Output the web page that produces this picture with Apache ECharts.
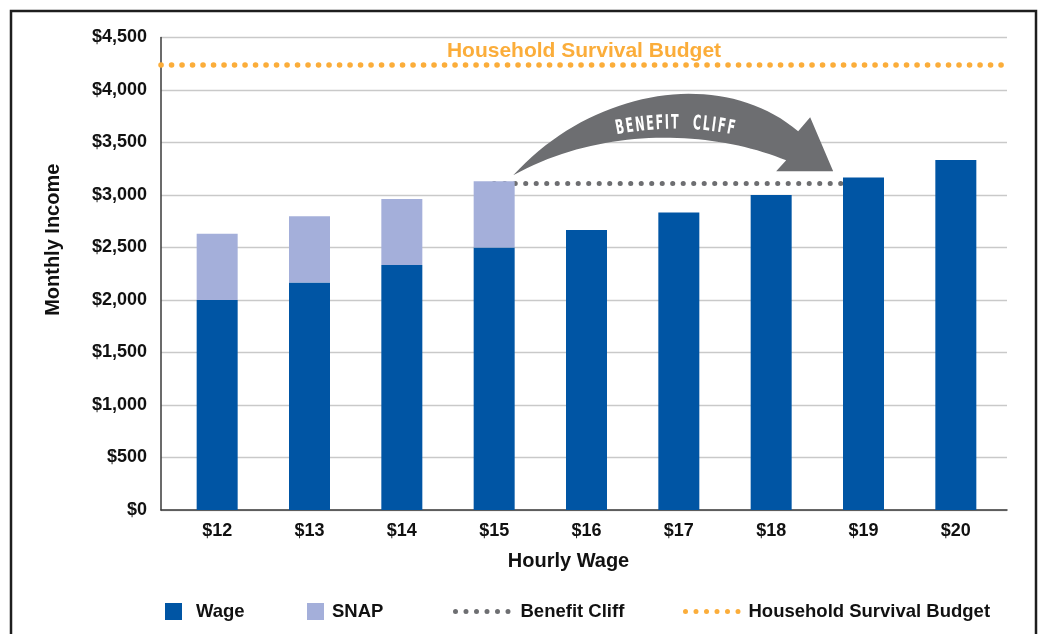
<!DOCTYPE html>
<html>
<head>
<meta charset="utf-8">
<script src="https://cdn.jsdelivr.net/npm/echarts@6/dist/echarts.min.js"></script>
<style>
  html, body { margin: 0; padding: 0; background: #fff; }
  #chart { width: 1042px; height: 634px; }
</style>
</head>
<body>
<div id="chart"></div>
<script>
  // 数据
  const hourly = ['$12', '$13', '$14', '$15', '$16', '$17', '$18', '$19', '$20']
  const wage = [2000, 2167, 2333, 2500, 2667, 2833, 3000, 3167, 3333]
  const snap = [630, 630, 630, 630, null, null, null, null, null]
  const cliffLevel = 3110
  const cliffFrom = '$15'
  const cliffTo = '$19'
  const budget = 4240
  const yMin = 0
  const yMax = 4500
  const yStep = 500

  const font = '"Liberation Sans", Arial, sans-serif'
  const blue = '#0055a4'
  const lightBlue = '#a4afda'
  const grey = '#6d6e71'
  const orange = '#fbad3a'

  // 悬崖虚线只画在 $15 ~ $19 之间
  const iFrom = hourly.indexOf(cliffFrom)
  const iTo = hourly.indexOf(cliffTo)
  const cliffData = hourly.map((c, i) => (i >= iFrom && i <= iTo ? cliffLevel : null))

  const dotted = (color, w) => ({ color: color, width: w, type: [0.1, 10.4], cap: 'round' })

  // 图例里的六个圆点
  let dotsIcon = 'path://'
  for (let k = 0; k < 6; k++) {
    let x0 = k * 10.5
    dotsIcon += 'M' + x0 + ' 2.5a2.5 2.5 0 1 0 5 0a2.5 2.5 0 1 0 -5 0Z'
  }

  const legendText = pad => ({ color: '#111', fontSize: 18.5, fontWeight: 'bold', fontFamily: font, padding: [0, 0, 0, pad] })

  let chart = echarts.init(document.getElementById('chart'))
  let option = {
    animation: false,
    grid: [
      { left: 161, right: 35, top: 37.5, bottom: 124 }, // 坐标轴和网格线
      { left: 171, right: 40, top: 37.5, bottom: 124 }  // 柱子
    ],
    xAxis: [{
      gridIndex: 0,
      type: 'category',
      data: hourly,
      axisLine: { show: true, lineStyle: { color: '#3a3a3a', width: 1.5 } },
      axisTick: { show: false },
      axisLabel: { show: false }
    }, {
      gridIndex: 1,
      type: 'category',
      data: hourly,
      axisLine: { show: false },
      axisTick: { show: false },
      axisLabel: { color: '#111', fontSize: 18, fontWeight: 'bold', fontFamily: font, margin: 12 },
      name: 'Hourly Wage',
      nameLocation: 'middle',
      nameGap: 41,
      nameTextStyle: { color: '#111', fontSize: 20, fontWeight: 'bold', fontFamily: font, padding: [0, 36, 0, 0] }
    }],
    yAxis: [{
      gridIndex: 0,
      type: 'value',
      min: yMin,
      max: yMax,
      interval: yStep,
      axisLine: { show: true, lineStyle: { color: '#3a3a3a', width: 1.5 } },
      axisTick: { show: false },
      splitLine: { show: true, lineStyle: { color: '#c9c9c9', width: 1.3 } },
      axisLabel: {
        color: '#111', fontSize: 18, fontWeight: 'bold', fontFamily: font, margin: 14,
        formatter: v => '$' + v.toLocaleString('en-US')
      },
      name: 'Monthly Income',
      nameLocation: 'middle',
      nameGap: 98,
      nameTextStyle: { color: '#111', fontSize: 20, fontWeight: 'bold', fontFamily: font, padding: [0, 0, 0, 68] }
    }, {
      gridIndex: 1,
      type: 'value',
      min: yMin,
      max: yMax,
      interval: yStep,
      show: false
    }],
    legend: [
      { data: ['Wage'], left: 165, top: 602, padding: 0, icon: 'rect', itemWidth: 17, itemHeight: 17,
        textStyle: legendText(9) },
      { data: ['SNAP'], left: 307, top: 602, padding: 0, icon: 'rect', itemWidth: 17, itemHeight: 17,
        textStyle: legendText(3) },
      { data: ['Benefit Cliff'], left: 453, top: 602, padding: 0, icon: dotsIcon, itemWidth: 57.5, itemHeight: 5,
        textStyle: legendText(5) },
      { data: ['Household Survival Budget'], left: 683, top: 602, padding: 0, icon: dotsIcon, itemWidth: 57.5, itemHeight: 5,
        textStyle: legendText(3) }
    ],
    series: [{
      name: 'Wage',
      type: 'bar',
      xAxisIndex: 1,
      yAxisIndex: 1,
      stack: 'income',
      barWidth: 41,
      z: 3,
      itemStyle: { color: blue },
      data: wage
    }, {
      name: 'SNAP',
      type: 'bar',
      xAxisIndex: 1,
      yAxisIndex: 1,
      stack: 'income',
      barWidth: 41,
      z: 3,
      itemStyle: { color: lightBlue },
      data: snap
    }, {
      name: 'Benefit Cliff',
      type: 'line',
      xAxisIndex: 1,
      yAxisIndex: 1,
      symbol: 'none',
      z: 1,
      itemStyle: { color: grey },
      lineStyle: dotted(grey, 5),
      data: cliffData
    }, {
      name: 'Household Survival Budget',
      type: 'line',
      xAxisIndex: 0,
      yAxisIndex: 0,
      symbol: 'none',
      itemStyle: { color: orange },
      lineStyle: dotted(orange, 5.5),
      data: [],
      markLine: {
        silent: true,
        symbol: ['none', 'none'],
        lineStyle: dotted(orange, 5.5),
        label: {
          show: true,
          position: 'insideMiddleTop',
          distance: 3,
          formatter: 'Household Survival Budget',
          color: orange,
          fontSize: 21,
          fontWeight: 'bold',
          fontFamily: font
        },
        data: [{ yAxis: budget }]
      }
    }]
  }
  chart.setOption(option, true)

  // 弯箭头 "BENEFIT CLIFF"，从 $15 柱顶出发
  let top15 = wage[iFrom] + snap[iFrom]
  let p = chart.convertToPixel({ xAxisIndex: 1, yAxisIndex: 1 }, [cliffFrom, top15])
  let ox = p[0] + 19
  let oy = p[1] - 6

  function bezier(a, b, c, d, n) {
    let pts = []
    for (let i = 0; i <= n; i++) {
      let t = i / n
      let u = 1 - t
      pts.push([
        u * u * u * a[0] + 3 * u * u * t * b[0] + 3 * u * t * t * c[0] + t * t * t * d[0],
        u * u * u * a[1] + 3 * u * u * t * b[1] + 3 * u * t * t * c[1] + t * t * t * d[1]
      ])
    }
    return pts
  }
  let arrowPts = bezier([0, 0], [80, -88], [210, -108], [285, -44], 40)
    .concat([[297, -58], [320, -4], [263, -4]])
    .concat(bezier([273, -15], [200, -45], [90, -50], [0, 0], 40))

  let chars = [['B', 10.5], ['E', 9.5], ['N', 11], ['E', 9.5], ['F', 9], ['I', 6], ['T', 10],
    [' ', 12], ['C', 10], ['L', 9], ['I', 6], ['F', 9.5], ['F', 9.5]]
  let total = chars.reduce((s, c) => s + c[1], 0)
  let R = 300
  let cx = 162
  let cy = -52 + R
  let s = -total / 2
  let letters = []
  chars.forEach(c => {
    let mid = s + c[1] / 2
    s += c[1]
    if (c[0] === ' ') return
    let th = mid / R
    letters.push({
      type: 'text',
      x: cx + R * Math.sin(th),
      y: cy - R * Math.cos(th),
      rotation: -th,
      scaleX: 0.62,
      style: {
        text: c[0],
        fill: '#fff',
        font: 'bold 20px "DejaVu Sans Condensed", "DejaVu Sans", sans-serif',
        textAlign: 'center',
        textVerticalAlign: 'middle',
        align: 'center',
        verticalAlign: 'middle'
      }
    })
  })

  chart.setOption({
    graphic: [{
      type: 'rect',
      silent: true,
      z: 100,
      shape: { x: 11, y: 11, width: 1025, height: 700 },
      style: { fill: 'none', stroke: '#1e1e1e', lineWidth: 2.5 }
    }, {
      type: 'group',
      x: ox,
      y: oy,
      z: 50,
      children: [{
        type: 'polygon',
        shape: { points: arrowPts },
        style: { fill: grey }
      }].concat(letters)
    }]
  })

  window.onresize = chart.resize
</script>
</body>
</html>
